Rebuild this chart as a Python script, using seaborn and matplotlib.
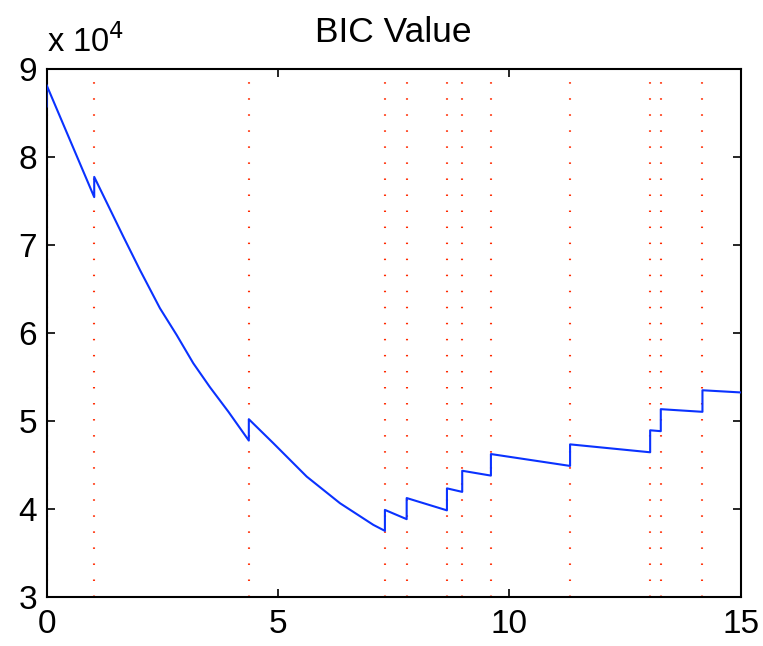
import matplotlib
matplotlib.use("Agg")
import matplotlib.pyplot as plt
import seaborn as sns
import pandas as pd
from matplotlib.ticker import FuncFormatter, FixedLocator

# BIC curve (x positions; duplicate x = vertical jump at a change point)
bic_x = [0, 0, 1.03, 1.03, 1.66, 2.02, 2.45, 2.81, 3.17, 3.53, 3.93, 4.37,
         4.37, 4.90, 5.62, 6.34, 7.06, 7.31,
         7.31, 7.78, 7.78, 8.65, 8.65, 8.98, 8.98, 9.60, 9.60,
         11.31, 11.31, 13.04, 13.04, 13.27, 13.27, 14.17, 14.17, 15.0]
bic_y = [85650, 88150, 75400, 77700, 70900, 67100, 62770, 59740, 56520, 53800, 51000, 47730,
         50160, 47430, 43640, 40610, 38150, 37470,
         39850, 38800, 41200, 39800, 42300, 41900, 44300, 43750, 46200,
         44850, 47300, 46400, 48900, 48800, 51300, 51000, 53450, 53200]

# change points (red dotted vertical lines)
change_points = [0, 1.03, 4.37, 7.31, 7.78, 8.65, 8.98, 9.60, 11.31, 13.04, 13.27, 14.17]

x_ticks = [0, 5, 10, 15]
y_ticks = [30000, 40000, 50000, 60000, 70000, 80000, 90000]

sns.set_style("ticks")
plt.rcParams['font.family'] = ['Liberation Sans', 'DejaVu Sans']
plt.rcParams['text.color'] = 'black'

fig = plt.figure(figsize=(7.63, 6.46), dpi=100)
ax = fig.add_axes([0.061, 0.0765, 0.910, 0.8172])

for cp in change_points:
    ax.axvline(cp, color='#ff2a00', lw=1.5, linestyle=(0, (0.7, 7.0)), zorder=1)

df = pd.DataFrame({"x": bic_x, "y": bic_y})
sns.lineplot(data=df, x="x", y="y", sort=False, estimator=None,
             color='#0a32ff', lw=1.5, ax=ax, zorder=3)

ax.set_xlim(0, 15)
ax.set_ylim(30000, 90000)
ax.xaxis.set_major_locator(FixedLocator(x_ticks))
ax.yaxis.set_major_locator(FixedLocator(y_ticks))
ax.yaxis.set_major_formatter(FuncFormatter(lambda v, p: f"{v/1e4:g}"))
ax.set_xlabel("")
ax.set_ylabel("")

for s in ax.spines.values():
    s.set_visible(True)
    s.set_linewidth(1.5)
    s.set_color('black')

ax.tick_params(direction='in', length=6, width=1.2, top=True, right=True,
               labelsize=24, colors='black')
ax.tick_params(axis='x', pad=9)
ax.tick_params(axis='y', pad=7)

ax.set_title("BIC Value", fontsize=25.5, pad=19, color='black')
ax.text(0.0, 1.032, r"x 10$^4$", transform=ax.transAxes, fontsize=23.5,
        ha='left', va='baseline', color='black')

fig.savefig("out.png", dpi=100)
